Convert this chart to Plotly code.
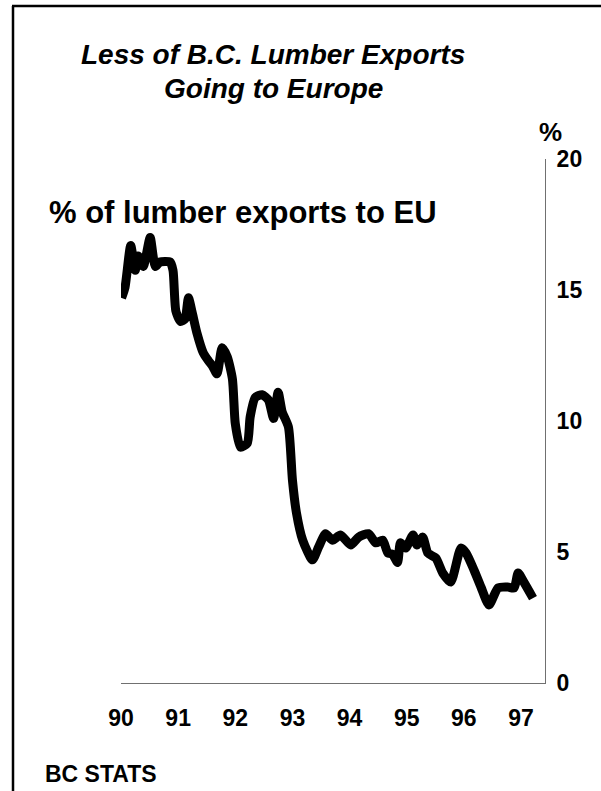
import plotly.graph_objects as go

# Data (decimal year, % of B.C. lumber exports going to EU)
years = [1990.01, 1990.07, 1990.17, 1990.25, 1990.30, 1990.39, 1990.51, 1990.60, 1990.68, 1990.86,
         1990.91, 1990.96, 1991.04, 1991.12, 1991.18, 1991.25, 1991.33, 1991.44, 1991.53, 1991.60,
         1991.68, 1991.77, 1991.86, 1991.95, 1992.00, 1992.09, 1992.21, 1992.26, 1992.35, 1992.47,
         1992.58, 1992.67, 1992.75, 1992.82, 1992.93, 1993.00, 1993.07, 1993.18, 1993.35, 1993.46,
         1993.58, 1993.70, 1993.84, 1994.02, 1994.16, 1994.33, 1994.46, 1994.58, 1994.67, 1994.75,
         1994.84, 1994.89, 1994.98, 1995.11, 1995.18, 1995.28, 1995.37, 1995.51, 1995.63, 1995.77,
         1995.95, 1996.04, 1996.18, 1996.30, 1996.44, 1996.60, 1996.77, 1996.88, 1996.95, 1997.05,
         1997.21]
share_eu = [14.7, 15.1, 16.7, 15.75, 16.3, 15.9, 17.0, 15.9, 16.07, 16.07,
            15.75, 14.2, 13.8, 13.9, 14.7, 14.1, 13.35, 12.6, 12.3, 12.1,
            11.8, 12.8, 12.45, 11.6, 9.9, 9.0, 9.15, 10.15, 10.9, 11.0,
            10.8, 10.1, 11.1, 10.35, 9.77, 7.75, 6.5, 5.45, 4.7, 5.2,
            5.7, 5.45, 5.65, 5.27, 5.57, 5.7, 5.35, 5.45, 4.96, 4.92,
            4.6, 5.35, 5.15, 5.65, 5.27, 5.57, 4.96, 4.77, 4.2, 3.85,
            5.15, 4.96, 4.3, 3.66, 2.98, 3.63, 3.66, 3.63, 4.2, 3.85,
            3.24]
x_tick_vals = [1990, 1991, 1992, 1993, 1994, 1995, 1996, 1997]
x_tick_text = ["90", "91", "92", "93", "94", "95", "96", "97"]
y_tick_vals = [0, 5, 10, 15, 20]

W, H = 601, 791
L, R, T, B = 121, 545, 159, 683
FONT = "Arial, Liberation Sans, sans-serif"


def px(x):
    return (x - L) / (R - L)


def py(y):
    return (B - y) / (B - T)


fig = go.Figure()
fig.add_trace(go.Scatter(
    x=years, y=share_eu, mode="lines",
    line=dict(color="black", width=9, shape="spline", smoothing=0.6),
    hoverinfo="skip", showlegend=False,
))

fig.update_layout(
    width=W, height=H,
    margin=dict(l=L, r=W - R, t=T, b=H - B, pad=0),
    paper_bgcolor="white", plot_bgcolor="white",
    font=dict(family=FONT, color="black"),
    showlegend=False,
    xaxis=dict(
        range=[1990, 1997.42], tickvals=x_tick_vals, ticktext=x_tick_text,
        showgrid=False, zeroline=False, showline=True, linecolor="#707070", linewidth=1,
        ticks="", ticklabelstandoff=14,
        tickfont=dict(family=FONT, size=23, color="black", weight="bold"),
    ),
    yaxis=dict(
        range=[0, 20], tickvals=y_tick_vals, side="right",
        showgrid=False, zeroline=False, showline=True, linecolor="#707070", linewidth=1,
        ticks="", ticklabelstandoff=6,
        tickfont=dict(family=FONT, size=23, color="black", weight="bold"),
    ),
)

annos = [
    dict(text="<b><i>Less of B.C. Lumber Exports</i></b>", x=px(273), y=py(55), size=28),
    dict(text="<b><i>Going to Europe</i></b>", x=px(273), y=py(88), size=28),
    dict(text="<b>% of lumber exports to EU</b>", x=px(243), y=py(212), size=31),
    dict(text="<b>%</b>", x=px(550), y=py(132), size=26),
    dict(text="<b>BC STATS</b>", x=px(101), y=py(774), size=23),
]
for a in annos:
    fig.add_annotation(
        text=a["text"], x=a["x"], y=a["y"], xref="paper", yref="paper",
        xanchor="center", yanchor="middle", showarrow=False,
        font=dict(family=FONT, size=a["size"], color="black"),
    )

# Frame (left and top edges visible)
fig.add_shape(type="line", xref="paper", yref="paper",
              x0=px(13), x1=px(13), y0=py(6), y1=py(H + 5),
              line=dict(color="black", width=2.5))
fig.add_shape(type="line", xref="paper", yref="paper",
              x0=px(12), x1=px(W + 5), y0=py(6), y1=py(6),
              line=dict(color="black", width=2.5))

fig.write_html("out.html")
